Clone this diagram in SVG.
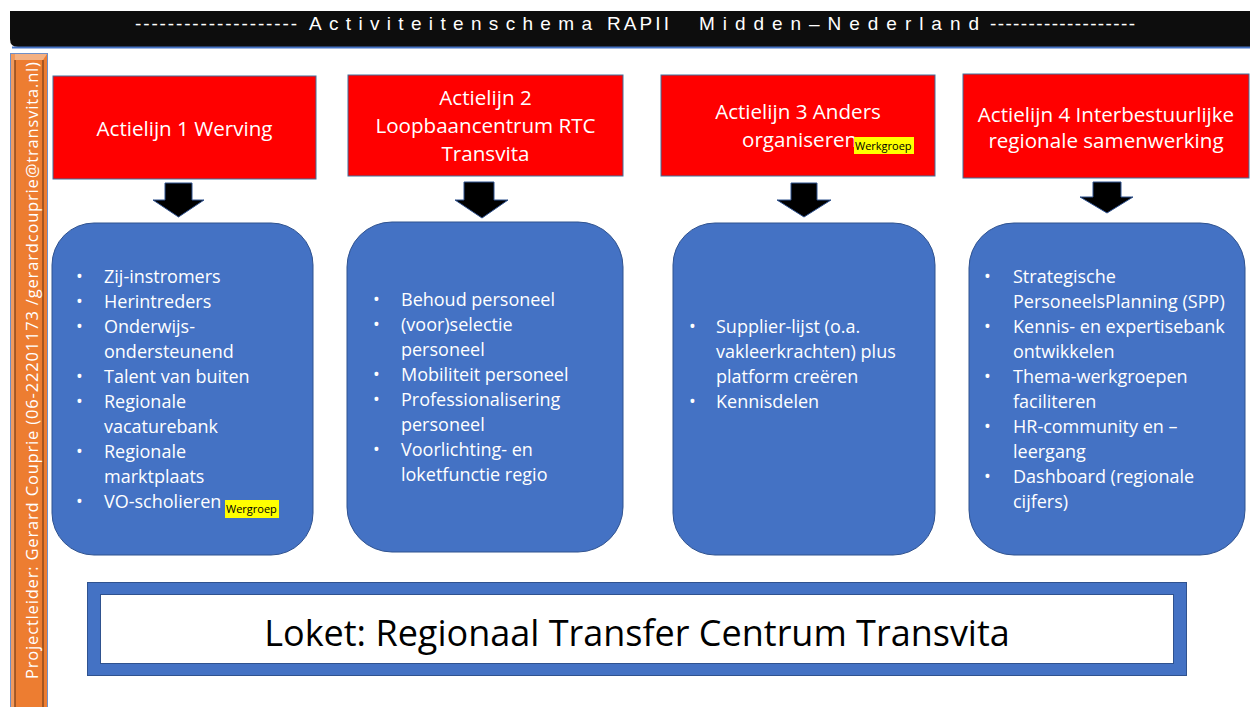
<svg xmlns="http://www.w3.org/2000/svg" width="1250" height="707" viewBox="0 0 1250 707">
<style>
.hdr{font-family:"Liberation Sans",Arial,sans-serif;font-size:19px;fill:#ffffff}
.red{fill:#ff0000;stroke:#41719c;stroke-width:1}
.rt{font-family:"Open Sans","Liberation Sans",sans-serif;font-size:20.6px;fill:#ffffff;text-anchor:middle}
.blue{fill:#4472c4;stroke:#2f528f;stroke-width:1}
.bt{font-family:"Open Sans","Liberation Sans",sans-serif;font-size:18px;fill:#ffffff}
.hl{fill:#ffff00}
.ht{font-family:"Open Sans","Liberation Sans",sans-serif;font-size:11px;fill:#000000}
.arr{fill:#000000;stroke:#2f528f;stroke-width:1}
</style>
<rect width="1250" height="707" fill="#ffffff"/>
<g id="header">
<path d="M10,11 H1250 V47 H18 Q10,47 10,39 Z" fill="#0d0d0d"/>
<line x1="12" y1="47.5" x2="1250" y2="47.5" stroke="#4472c4" stroke-width="2"/>
<text class="hdr" x="135" y="30" textLength="162" lengthAdjust="spacing">--------------------</text>
<text class="hdr" x="309" y="30" textLength="283" lengthAdjust="spacing">Activiteitenschema</text>
<text class="hdr" x="607" y="30" textLength="62" lengthAdjust="spacing">RAPII</text>
<text class="hdr" x="699" y="30" textLength="280" lengthAdjust="spacing">Midden–Nederland</text>
<text class="hdr" x="990" y="30" textLength="145" lengthAdjust="spacing">-------------------</text>
</g>
<g id="projectleider">
<rect x="10.5" y="53.5" width="37" height="660" fill="#ed7d31" stroke="#6f8fc8" stroke-width="1"/>
<polygon points="11,54 47,54 43,60 15,60" fill="#f4b183"/>
<rect x="11" y="54" width="4" height="660" fill="#f19a5e"/>
<line x1="15" y1="60" x2="15" y2="707" stroke="#8c4a1e" stroke-width="1.5"/>
<line x1="43" y1="60" x2="43" y2="707" stroke="#8c4a1e" stroke-width="1.5"/>
<text x="0" y="0" transform="translate(38,679) rotate(-90)" font-family="Open Sans, Liberation Sans, sans-serif" font-size="16.5" fill="#ffffff" textLength="617" lengthAdjust="spacing">Projectleider: Gerard Couprie (06-22201173 /gerardcouprie@transvita.nl)</text>
</g>
<g id="connectors">
<polygon class="arr" points="165,183 192,183 192,200 204,200 178.5,217 153,200 165,200"/>
<polygon class="arr" points="464,182 494,182 494,200 508,200 482,218 455,200 464,200"/>
<polygon class="arr" points="791,183 817,183 817,200 831,200 804,217 777,200 791,200"/>
<polygon class="arr" points="1093,182 1121,182 1121,197 1133,197 1107,213 1080,197 1093,197"/>
</g>
<g id="actielijn1">
<rect class="red" x="53" y="76" width="263" height="103"/>
<text class="rt" x="184.5" y="136">Actielijn 1 Werving</text>
</g>
<g id="actielijn2">
<rect class="red" x="348" y="75" width="275" height="101"/>
<text class="rt" x="485.5" y="105">Actielijn 2</text>
<text class="rt" x="485.5" y="133">Loopbaancentrum RTC</text>
<text class="rt" x="485.5" y="161">Transvita</text>
</g>
<g id="actielijn3">
<rect class="red" x="661" y="75" width="274" height="101"/>
<text class="rt" x="798" y="119">Actielijn 3 Anders</text>
<text class="rt" x="742" y="147" style="text-anchor:start">organiseren</text>
<rect class="hl" x="854" y="137" width="60" height="17"/>
<text class="ht" x="855" y="150">Werkgroep</text>
</g>
<g id="actielijn4">
<rect class="red" x="963" y="74" width="286" height="104"/>
<text class="rt" x="1106" y="122">Actielijn 4 Interbestuurlijke</text>
<text class="rt" x="1106" y="148">regionale samenwerking</text>
</g>
<g id="lijst1">
<rect class="blue" x="52" y="223" width="261" height="332" rx="42"/>
<g class="bt">
<text x="76" y="283">•</text><text x="104" y="283">Zij-instromers</text>
<text x="76" y="308">•</text><text x="104" y="308">Herintreders</text>
<text x="76" y="333">•</text><text x="104" y="333">Onderwijs-</text>
<text x="104" y="358">ondersteunend</text>
<text x="76" y="383">•</text><text x="104" y="383">Talent van buiten</text>
<text x="76" y="408">•</text><text x="104" y="408">Regionale</text>
<text x="104" y="433">vacaturebank</text>
<text x="76" y="458">•</text><text x="104" y="458">Regionale</text>
<text x="104" y="483">marktplaats</text>
<text x="76" y="508">•</text><text x="104" y="508">VO-scholieren</text>
</g>
<rect class="hl" x="225" y="500" width="54" height="18"/>
<text class="ht" x="226" y="513">Wergroep</text>
</g>
<g id="lijst2">
<rect class="blue" x="347" y="222" width="276" height="330" rx="45"/>
<g class="bt">
<text x="373" y="306">•</text><text x="401" y="306">Behoud personeel</text>
<text x="373" y="331">•</text><text x="401" y="331">(voor)selectie</text>
<text x="401" y="356">personeel</text>
<text x="373" y="381">•</text><text x="401" y="381">Mobiliteit personeel</text>
<text x="373" y="406">•</text><text x="401" y="406">Professionalisering</text>
<text x="401" y="431">personeel</text>
<text x="373" y="456">•</text><text x="401" y="456">Voorlichting- en</text>
<text x="401" y="481">loketfunctie regio</text>
</g>
</g>
<g id="lijst3">
<rect class="blue" x="673" y="223" width="262" height="332" rx="42"/>
<g class="bt">
<text x="689" y="333">•</text><text x="716" y="333">Supplier-lijst (o.a.</text>
<text x="716" y="358">vakleerkrachten) plus</text>
<text x="716" y="383">platform creëren</text>
<text x="689" y="408">•</text><text x="716" y="408">Kennisdelen</text>
</g>
</g>
<g id="lijst4">
<rect class="blue" x="969" y="223" width="276" height="332" rx="45"/>
<g class="bt">
<text x="984" y="283">•</text><text x="1013" y="283">Strategische</text>
<text x="1013" y="308">PersoneelsPlanning (SPP)</text>
<text x="984" y="333">•</text><text x="1013" y="333">Kennis- en expertisebank</text>
<text x="1013" y="358">ontwikkelen</text>
<text x="984" y="383">•</text><text x="1013" y="383">Thema-werkgroepen</text>
<text x="1013" y="408">faciliteren</text>
<text x="984" y="433">•</text><text x="1013" y="433">HR-community en –</text>
<text x="1013" y="458">leergang</text>
<text x="984" y="483">•</text><text x="1013" y="483">Dashboard (regionale</text>
<text x="1013" y="508">cijfers)</text>
</g>
</g>
<g id="loket">
<rect x="87.5" y="582.5" width="1099" height="93" fill="#4472c4" stroke="#2f528f" stroke-width="1"/>
<rect x="100.5" y="594.5" width="1073" height="69" fill="#ffffff" stroke="#2f528f" stroke-width="1"/>
<text x="637" y="646" font-family="Open Sans, Liberation Sans, sans-serif" font-size="36" fill="#000000" text-anchor="middle">Loket: Regionaal Transfer Centrum Transvita</text>
</g>
</svg>
